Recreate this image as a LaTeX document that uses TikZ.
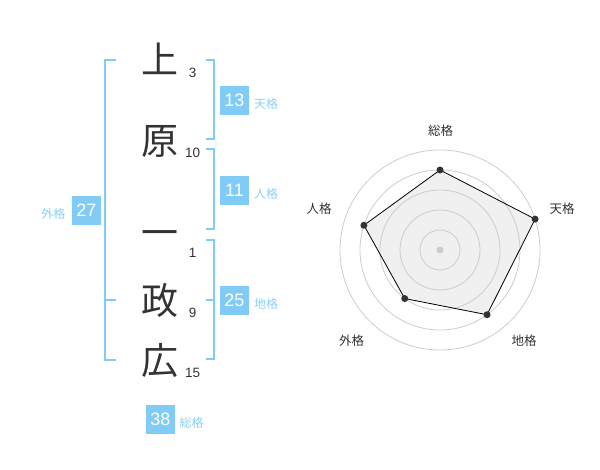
\documentclass[tikz,border=0pt]{standalone}
\usepackage{fontspec}
\setmainfont{Liberation Sans}
\newfontfamily\cjk{Noto Sans CJK JP}
\definecolor{kblue}{HTML}{80CCF7}
\definecolor{klab}{HTML}{8AD0F7}
\definecolor{ink}{HTML}{333333}
\definecolor{ring}{HTML}{CCCCCC}
\definecolor{area}{HTML}{F0F0F0}
\tikzset{
  bigch/.style={text=ink, inner sep=0pt, font=\cjk\fontsize{37}{40}\selectfont},
  strokes/.style={text=ink, inner sep=0pt, font=\fontsize{13.5}{15}\selectfont},
  valbox/.style={fill=kblue, text=white, inner sep=0pt, minimum size=29pt, font=\fontsize{18}{20}\selectfont},
  kaku/.style={text=klab, inner sep=0pt, font=\cjk\fontsize{12}{14}\selectfont},
  br/.style={draw=kblue, line width=2pt},
  axlab/.style={text=ink, inner sep=0pt, font=\cjk\fontsize{12.5}{14}\selectfont},
  dot/.style={circle, fill=ink, inner sep=0pt, minimum size=7pt},
}
\begin{document}
\begin{tikzpicture}[x=1pt,y=-1pt]
\useasboundingbox (0,0) rectangle (600,470);
% characters
\node[bigch] (c1) at (160,58.5) {上};
\node[bigch] (c2) at (159.5,141.5) {原};
\node[bigch] (c3) at (160,238.3) {一};
\node[bigch] (c4) at (160,300) {政};
\node[bigch] (c5) at (160,361) {広};
% stroke counts
\node[strokes] (n1) at (192.7,72.7) {3};
\node[strokes] (n2) at (192.7,153.3) {10};
\node[strokes] (n3) at (192.7,252.7) {1};
\node[strokes] (n4) at (192.7,313.3) {9};
\node[strokes] (n5) at (192.7,372.7) {15};
% brackets
\draw[br] (116,60) -- (105,60) -- (105,360) -- (116,360);
\draw[br] (105,300) -- (116,300);
\draw[br] (205.5,60) -- (214.3,60) -- (214.3,139.3) -- (205.5,139.3);
\draw[br] (205.5,149.3) -- (214.3,149.3) -- (214.3,229.3) -- (205.5,229.3);
\draw[br] (205.5,240) -- (214.3,240) -- (214.3,359.3) -- (205.5,359.3);
\draw[br] (205.5,300) -- (214.3,300);
% value boxes
\node[valbox] (ten) at (234.5,100.5) {13};
\node[kaku] (tenl) at (266,104) {天格};
\node[valbox] (jin) at (234.5,190.5) {11};
\node[kaku] (jinl) at (266,194) {人格};
\node[valbox] (chi) at (234.5,300.5) {25};
\node[kaku] (chil) at (266,304) {地格};
\node[valbox] (gai) at (86.3,210.5) {27};
\node[kaku] (gail) at (53.3,214.3) {外格};
\node[valbox] (sou) at (160.5,419) {38};
\node[kaku] (soul) at (191.7,422.7) {総格};
% radar
\begin{scope}[shift={(440,250)}, y=1pt]
  \coordinate (o) at (0,0);
  \coordinate (pS) at (90:80);
  \coordinate (pT) at (18:100);
  \coordinate (pC) at (-54:80);
  \coordinate (pG) at (-126:60);
  \coordinate (pJ) at (162:80);
  \fill[area] (pS) -- (pT) -- (pC) -- (pG) -- (pJ) -- cycle;
  \foreach \r in {20,40,60,80,100} \draw[ring, line width=0.8pt] (o) circle[radius=\r];
  \fill[ring] (o) circle[radius=3.5];
  \draw[black, line width=0.8pt] (pS) -- (pT) -- (pC) -- (pG) -- (pJ) -- cycle;
  \foreach \p in {pS,pT,pC,pG,pJ} \node[dot] at (\p) {};
\end{scope}
\node[axlab] (aS) at (440.7,130.7) {総格};
\node[axlab] (aT) at (562,208.7) {天格};
\node[axlab] (aC) at (524,341) {地格};
\node[axlab] (aG) at (351.7,341) {外格};
\node[axlab] (aJ) at (319,208.7) {人格};
\end{tikzpicture}
\end{document}
